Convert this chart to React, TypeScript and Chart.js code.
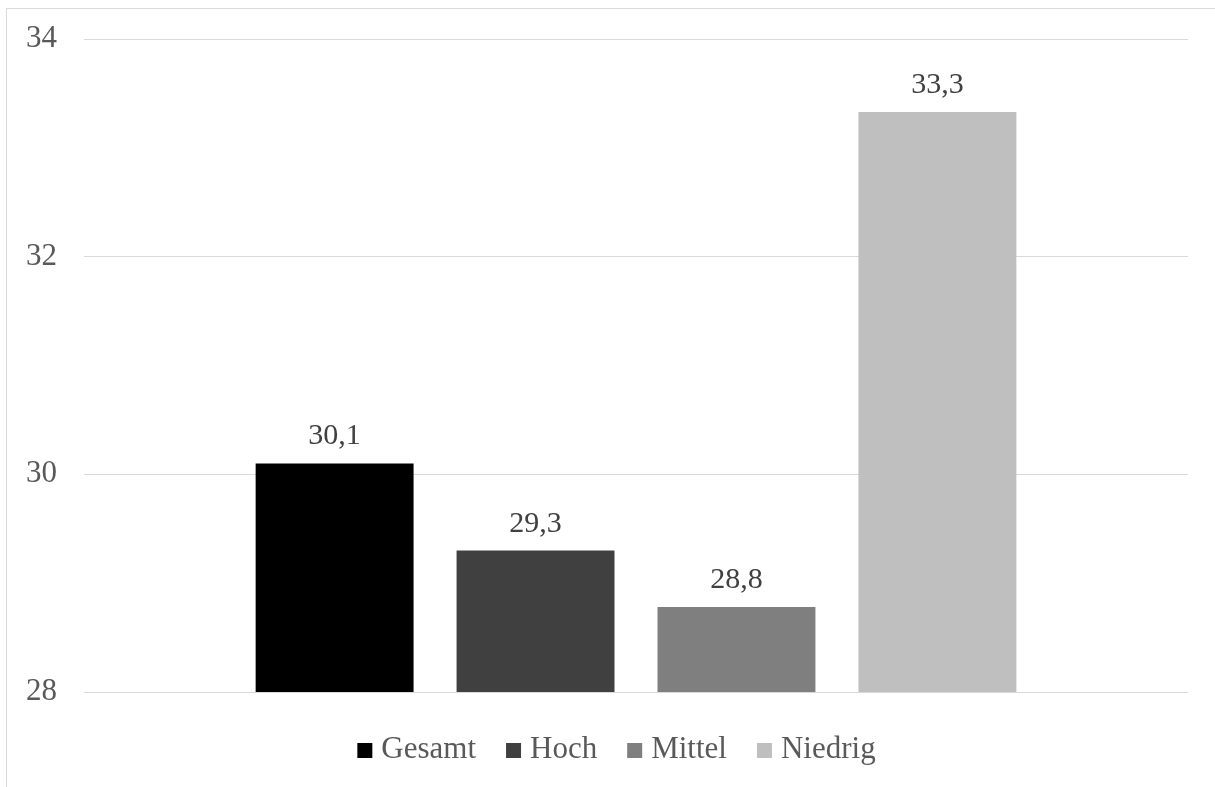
import React, { useEffect, useRef } from "react";
import { Chart, registerables } from "chart.js";

Chart.register(...registerables);

const categories = [""];
const seriesNames = ["Gesamt", "Hoch", "Mittel", "Niedrig"];
const seriesValues = [30.1, 29.3, 28.78, 33.33];
const seriesColors = ["#000000", "#404040", "#7f7f7f", "#bfbfbf"];
const yTicks = [28, 30, 32, 34];

const FONT = '"Liberation Serif", "Times New Roman", Times, serif';

const labelPlugin = {
  id: "barLabels",
  afterDatasetsDraw(chart: any) {
    const ctx = chart.ctx;
    ctx.save();
    ctx.font = `30px ${FONT}`;
    ctx.fillStyle = "#404040";
    ctx.textAlign = "center";
    ctx.textBaseline = "alphabetic";
    chart.data.datasets.forEach((ds: any, i: number) => {
      const meta = chart.getDatasetMeta(i);
      meta.data.forEach((el: any, j: number) => {
        const v = ds.data[j] as number;
        ctx.fillText(v.toFixed(1).replace(".", ","), el.x, el.y - 19);
      });
    });
    ctx.restore();
  },
};

const legendPlugin = {
  id: "bottomLegend",
  afterDraw(chart: any) {
    const ctx = chart.ctx;
    ctx.save();
    ctx.font = `31px ${FONT}`;
    ctx.textBaseline = "alphabetic";
    ctx.textAlign = "left";
    const box = 15;
    const boxGap = 9;
    const itemGap = 30;
    const widths = seriesNames.map((n) => ctx.measureText(n).width);
    const total =
      widths.reduce((a: number, b: number) => a + b, 0) +
      seriesNames.length * (box + boxGap) +
      (seriesNames.length - 1) * itemGap;
    let x = 616.5 - total / 2;
    const baseline = chart.chartArea.bottom + 66;
    seriesNames.forEach((n, i) => {
      ctx.fillStyle = seriesColors[i];
      ctx.fillRect(x, baseline - box, box, box);
      x += box + boxGap;
      ctx.fillStyle = "#595959";
      ctx.fillText(n, x, baseline);
      x += widths[i] + itemGap;
    });
    ctx.restore();
  },
};

export default function App() {
  const ref = useRef<HTMLCanvasElement>(null);
  useEffect(() => {
    if (!ref.current) return;
    const chart = new Chart(ref.current, {
      type: "bar",
      data: {
        labels: categories,
        datasets: seriesNames.map((n, i) => ({
          label: n,
          data: [seriesValues[i]],
          backgroundColor: seriesColors[i],
          borderWidth: 0,
          categoryPercentage: 0.728,
          barPercentage: 0.786,
        })),
      },
      options: {
        animation: false,
        responsive: false,
        maintainAspectRatio: false,
        layout: { padding: { left: 0, right: 27, top: 39, bottom: 95 } },
        scales: {
          x: { display: false },
          y: {
            min: yTicks[0],
            max: yTicks[yTicks.length - 1],
            afterBuildTicks: (s: any) => {
              s.ticks = yTicks.map((v) => ({ value: v }));
            },
            afterFit: (s: any) => {
              s.width = 84;
              s.paddingTop = 0;
              s.paddingBottom = 0;
            },
            grid: { color: "#d9d9d9", lineWidth: 1, drawTicks: false },
            border: { display: false },
            ticks: {
              padding: 27,
              color: "#595959",
              font: { family: FONT, size: 31 },
            },
          },
        },
        plugins: {
          tooltip: { enabled: false },
          legend: { display: false },
        },
      },
      plugins: [labelPlugin, legendPlugin],
    });
    return () => chart.destroy();
  }, []);
  return (
    <>
      <div
        style={{
          position: "fixed",
          left: 6,
          top: 8,
          width: 1300,
          height: 900,
          border: "1px solid #d9d9d9",
          boxSizing: "border-box",
        }}
      />
      <canvas
        ref={ref}
        width={1215}
        height={787}
        style={{ position: "fixed", left: 0, top: 0, width: 1215, height: 787 }}
      />
    </>
  );
}
